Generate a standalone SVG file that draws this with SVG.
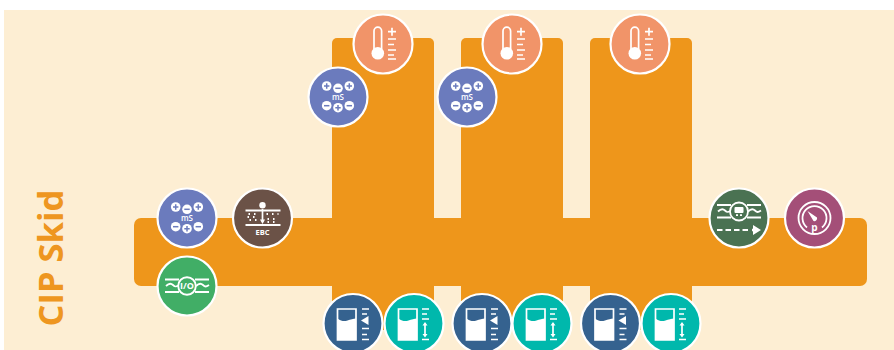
<svg xmlns="http://www.w3.org/2000/svg" width="894" height="350" viewBox="0 0 894 350">
<style>
.ring{stroke:#fff;stroke-width:2.2}
.l{fill:none;stroke:#fff;stroke-width:1.8}
.t{fill:none;stroke:#fff;stroke-width:1.700}
.w{fill:#fff}
.lab{font-family:"Open Sans","DejaVu Sans",sans-serif;fill:#fff;font-weight:700;text-anchor:middle}
</style>
<defs>
<g id="thermo">
<path class="t" d="M-9 5v-18a3.800 3.800 0 0 1 7.600 0v18"/>
<circle cx="-5.200" cy="9.300" r="6.300" class="w"/>
<path class="t" d="M5 -12.300h8M9 -16.300v8M5 -5h8M5 0.500h6M5 6h8M5 11h6M5 15h8"/>
</g>
<g id="ms">
<circle cx="-11.300" cy="-11" r="4.800" class="w"/><path d="M-14 -11h5.400M-11.300 -13.700v5.400" stroke="#6b7bbd" stroke-width="1.500"/>
<circle cx="0" cy="-8.700" r="4.800" class="w"/><path d="M-2.700 -8.700h5.400" stroke="#6b7bbd" stroke-width="1.500"/>
<circle cx="11.300" cy="-11" r="4.800" class="w"/><path d="M8.600 -11h5.400M11.300 -13.700v5.400" stroke="#6b7bbd" stroke-width="1.500"/>
<circle cx="-11.300" cy="8.700" r="4.800" class="w"/><path d="M-14 8.700h5.400" stroke="#6b7bbd" stroke-width="1.500"/>
<circle cx="0" cy="10.700" r="4.800" class="w"/><path d="M-2.700 10.700h5.400M0 8v5.400" stroke="#6b7bbd" stroke-width="1.500"/>
<circle cx="11.300" cy="8.700" r="4.800" class="w"/><path d="M8.600 8.700h5.400" stroke="#6b7bbd" stroke-width="1.500"/>
<text class="lab" x="0" y="3.200" font-size="8" style="font-weight:600">mS</text>
</g>
<g id="beaker">
<path class="t" d="M-15.500 -14.500h18.500v31h-18.500z"/>
<path class="w" d="M-15.500 -5c4 3 7 3 10 2s6 -2 8.500 -2v21.500h-18.500z"/>
</g>
<g id="lvlA">
<use href="#beaker"/>
<path class="t" d="M9 -14.500h7M9 -9.500h5M9 5h7M9 11h5M9 16h7"/>
<path class="w" d="M8 -3l7.500 -4.500v9z"/>
</g>
<g id="lvlB">
<use href="#beaker"/>
<path class="t" d="M8 -14.500h7M8 -9.500h5M8 -4.500h7M8 16h7"/>
<path class="t" d="M11 0v12" stroke-width="1.400"/><path class="w" d="M8.500 2l2.500 -3.500l2.500 3.500zM8.500 10.500l2.500 3.500l2.500 -3.500z"/>
</g>
</defs>
<rect width="894" height="350" fill="#fff"/>
<rect x="4" y="10" width="890" height="340" fill="#fdeed3"/>
<text transform="translate(63,326.500) rotate(-90)" font-family="'Open Sans','DejaVu Sans',sans-serif" font-weight="700" font-size="34.500" fill="#ee9620">CIP Skid</text>
<g id="connectors" fill="#ee961b">
<rect x="134" y="218" width="733" height="68" rx="7"/>
<rect x="332" y="38" width="102" height="292" rx="5"/>
<rect x="461" y="38" width="102" height="292" rx="5"/>
<rect x="590" y="38" width="102" height="292" rx="5"/>
</g>
<g id="temp1" transform="translate(383,44)"><circle r="29.500" fill="#f19469" class="ring"/><use href="#thermo"/></g>
<g id="temp2" transform="translate(512,44)"><circle r="29.500" fill="#f19469" class="ring"/><use href="#thermo"/></g>
<g id="temp3" transform="translate(640,44)"><circle r="29.500" fill="#f19469" class="ring"/><use href="#thermo"/></g>
<g id="ms1" transform="translate(338,97)"><circle r="29.500" fill="#6b7bbd" class="ring"/><use href="#ms"/></g>
<g id="ms2" transform="translate(467,97)"><circle r="29.500" fill="#6b7bbd" class="ring"/><use href="#ms"/></g>
<g id="ms3" transform="translate(187,218)"><circle r="29.500" fill="#6b7bbd" class="ring"/><use href="#ms"/></g>
<g id="ebc" transform="translate(262.500,218)"><circle r="29.500" fill="#6b5247" class="ring"/>
<path class="l" d="M-17 -7.500h35M-17 7h35"/><path class="t" d="M0 -9v13" stroke-width="1.300"/><path class="w" d="M-2.500 1.500h5l-2.500 4.500z"/>
<circle cy="-12.700" r="3.200" class="w"/>
<path class="l" stroke-width="1" stroke-dasharray="1.500 4" d="M-14 -4h11M4 -4h12M-15 -1h11M5 1h8M-13 2h10M5 4h9"/>
<text class="lab" y="16.500" font-size="7.500">EBC</text></g>
<g id="io" transform="translate(187,286)"><circle r="29.500" fill="#41ae66" class="ring"/>
<path class="l" d="M-22 -6.500h14M8 -6.500h14M-22 6h14M8 6h14M-21 0c3 -3 5 -3 7 -1s3 2 5 0.500M9 0c3 -3 5 -3 7 -1s3 2 6 0"/>
<circle r="8.800" fill="#41ae66" stroke="#fff" stroke-width="1.900"/>
<text class="lab" y="3.200" font-size="9">I/O</text></g>
<g id="flow" transform="translate(739,218)"><circle r="29.500" fill="#4a7252" class="ring"/>
<path class="l" d="M-22 -13h14M8 -13h14M-22 -0.500h14M8 -0.500h14M-21 -6.500c3 -3 5 -3 7 -1s3 2 5 0.500M9 -6.500c3 -3 5 -3 7 -1s3 2 6 0"/>
<circle cy="-6.500" r="9" fill="#4a7252" stroke="#fff" stroke-width="1.800"/>
<rect x="-4.500" y="-11" width="9" height="6" rx="1" class="w"/><path class="t" d="M-3 -2.800h2M1 -2.800h2" stroke-width="1.500"/>
<path class="l" stroke-width="2" stroke-dasharray="5.500 3" d="M-22 12h33"/><path class="w" d="M13 10.800h1v-3.800l8 5l-8 5v-3.800h-1z"/></g>
<g id="pressure" transform="translate(814.500,218)"><circle r="29.500" fill="#a44f78" class="ring"/>
<circle r="16" class="l"/><path class="l" d="M-7.500 9.500a12 12 0 1 1 15 0"/>
<path class="w" d="M-7 -7l9.500 6.500a2.800 2.800 0 0 1 -3.500 3.500z"/>
<text class="lab" y="12.500" font-size="10">p</text></g>
<g id="lvl1" transform="translate(353,323.500)"><circle r="29.500" fill="#35628f" class="ring"/><use href="#lvlA"/></g>
<g id="lvl2" transform="translate(414,323.500)"><circle r="29.500" fill="#00b8ac" class="ring"/><use href="#lvlB"/></g>
<g id="lvl3" transform="translate(482,323.500)"><circle r="29.500" fill="#35628f" class="ring"/><use href="#lvlA"/></g>
<g id="lvl4" transform="translate(542,323.500)"><circle r="29.500" fill="#00b8ac" class="ring"/><use href="#lvlB"/></g>
<g id="lvl5" transform="translate(610.500,323.500)"><circle r="29.500" fill="#35628f" class="ring"/><use href="#lvlA"/></g>
<g id="lvl6" transform="translate(671,323.500)"><circle r="29.500" fill="#00b8ac" class="ring"/><use href="#lvlB"/></g>
</svg>
